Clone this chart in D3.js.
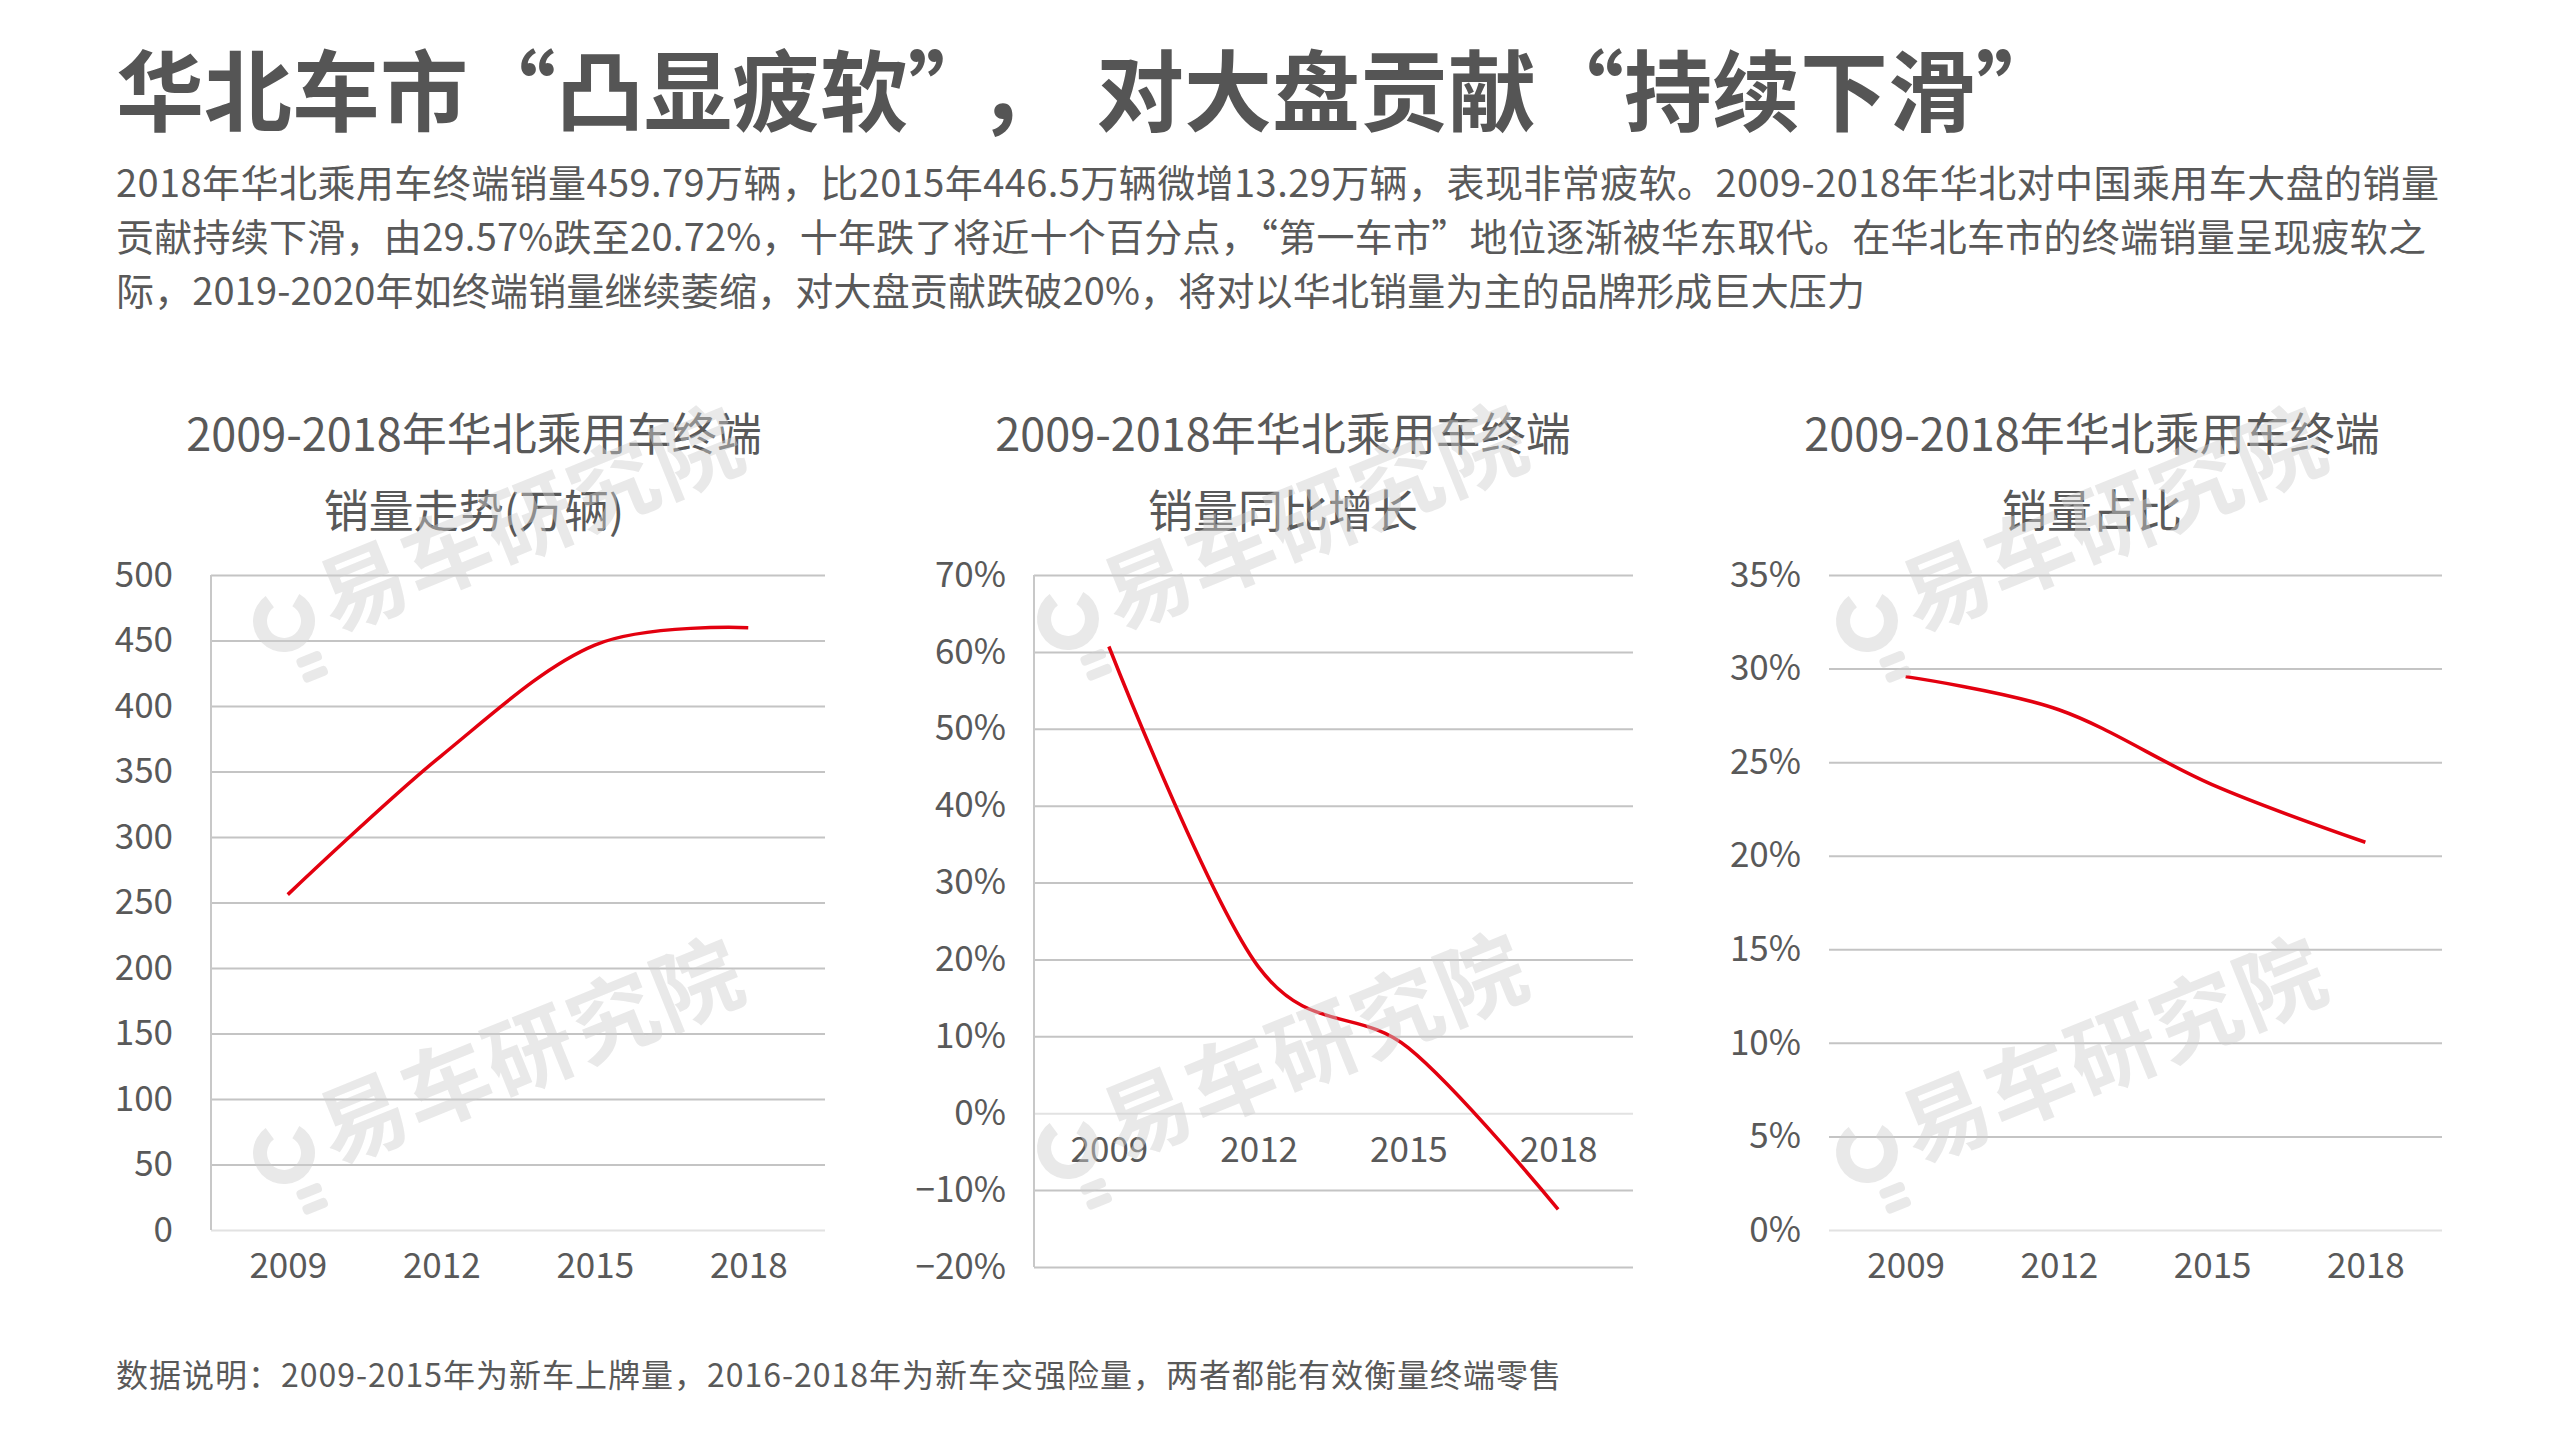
<!DOCTYPE html>
<html>
<head>
<meta charset="utf-8">
<script src="https://cdn.jsdelivr.net/npm/d3@7"></script>
<style>
  body { margin: 0; background: #fff; }
  svg text { font-family: "Noto Sans CJK SC", "Noto Sans", sans-serif; }
</style>
</head>
<body id="MyBody">
<svg id="chart" width="2560" height="1440"></svg>
<script>

// donnees
var years = ["2009", "2012", "2015", "2018"];
var salesValues = [256, 362, 446.5, 459.79];        // 万辆
var yoyValues = [0.607, 0.19, 0.085, -0.125];        // 同比
var shareValues = [0.2957, 0.278, 0.238, 0.2072];   // 占比

var salesTicks = [0, 50, 100, 150, 200, 250, 300, 350, 400, 450, 500];
var yoyTicks = [-0.2, -0.1, 0, 0.1, 0.2, 0.3, 0.4, 0.5, 0.6, 0.7];
var shareTicks = [0, 0.05, 0.1, 0.15, 0.2, 0.25, 0.3, 0.35];

var mainTitle = ["华北车市“凸显疲软”", "，", "对大盘贡献“持续下滑”"];
var introLines = [
  "2018年华北乘用车终端销量459.79万辆，比2015年446.5万辆微增13.29万辆，表现非常疲软。2009-2018年华北对中国乘用车大盘的销量",
  "贡献持续下滑，由29.57%跌至20.72%，十年跌了将近十个百分点，“第一车市”地位逐渐被华东取代。在华北车市的终端销量呈现疲软之",
  "际，2019-2020年如终端销量继续萎缩，对大盘贡献跌破20%，将对以华北销量为主的品牌形成巨大压力"
];
var introWidths = [2323, 2310, 1749];
var footNote = "数据说明：2009-2015年为新车上牌量，2016-2018年为新车交强险量，两者都能有效衡量终端零售";
var watermarkText = "易车研究院";

const txtColor = "#595959";
const gridColor = "#c4c4c4";
const lineColor = "#e3000f";

var svg = d3.select("#chart");

// titre + texte d'intro
var t = svg.append("text")
  .attr("x", 116).attr("y", 124)
  .attr("font-size", 88).attr("font-weight", "bold")
  .attr("fill", "#555555");
t.append("tspan").text(mainTitle[0]);
t.append("tspan").attr("dx", 26).text(mainTitle[1]);
t.append("tspan").attr("dx", 30).text(mainTitle[2]);

svg.selectAll(".intro")
  .data(introLines)
  .enter()
  .append("text")
  .attr("class", "intro")
  .attr("x", 116)
  .attr("y", function(d, i) { return 197 + i * 54; })
  .attr("font-size", 38)
  .attr("fill", txtColor)
  .attr("textLength", function(d, i) { return introWidths[i]; })
  .attr("lengthAdjust", "spacing")
  .text(function(d) { return d; });

svg.append("text")
  .attr("x", 116).attr("y", 1387)
  .attr("font-size", 32)
  .attr("fill", txtColor)
  .attr("textLength", 1445)
  .attr("lengthAdjust", "spacing")
  .text(footNote);

var panels = [
  {
    title: ["2009-2018年华北乘用车终端", "销量走势(万辆)"], titleX: 474,
    values: salesValues, ticks: salesTicks, domain: [0, 500],
    left: 211, right: 825, top: 575, bottom: 1230, labelGap: 38,
    fmt: function(d) { return d; }, vAxis: true, xLabelY: 1290,
    wm: [[284, 621], [284, 1153]]
  },
  {
    title: ["2009-2018年华北乘用车终端", "销量同比增长"], titleX: 1283,
    values: yoyValues, ticks: yoyTicks, domain: [-0.2, 0.7],
    left: 1034, right: 1633, top: 575, bottom: 1267, labelGap: 28,
    fmt: d3.format(".0%"), vAxis: true, xLabelY: null,
    wm: [[1068, 619], [1068, 1148]]
  },
  {
    title: ["2009-2018年华北乘用车终端", "销量占比"], titleX: 2092,
    values: shareValues, ticks: shareTicks, domain: [0, 0.35],
    left: 1829, right: 2442, top: 575, bottom: 1230, labelGap: 28,
    fmt: d3.format(".0%"), vAxis: false, xLabelY: 1290,
    wm: [[1867, 621], [1867, 1152]]
  }
];

function draw_panel(p) {
  var g = svg.append("g");

  g.selectAll(".ptitle")
    .data(p.title)
    .enter()
    .append("text")
    .attr("x", p.titleX)
    .attr("y", function(d, i) { return 451 + i * 77; })
    .attr("text-anchor", "middle")
    .attr("font-size", 45)
    .attr("fill", txtColor)
    .text(function(d) { return d; });

  var x = d3.scalePoint().domain(years).range([p.left, p.right]).padding(0.5);
  var y = d3.scaleLinear().domain(p.domain).range([p.bottom, p.top]);

  // grille horizontale
  var grid = g.append("g")
    .attr("transform", "translate(" + p.left + ",0)")
    .call(d3.axisLeft(y).tickValues(p.ticks).tickSize(-(p.right - p.left)).tickFormat(""));
  grid.select(".domain").remove();
  grid.selectAll(".tick line")
    .attr("stroke", function(d) { return d === 0 ? "#e2e2e2" : gridColor; })
    .attr("stroke-width", 2);

  if (p.vAxis) {
    g.append("line")
      .attr("x1", p.left).attr("x2", p.left)
      .attr("y1", p.top).attr("y2", p.bottom)
      .attr("stroke", "#c8c8c8").attr("stroke-width", 2);
  }

  // labels axe y
  var yAx = g.append("g")
    .attr("transform", "translate(" + (p.left - p.labelGap) + ",0)")
    .call(d3.axisLeft(y).tickValues(p.ticks).tickSize(0).tickPadding(0).tickFormat(p.fmt));
  yAx.select(".domain").remove();
  yAx.selectAll("text")
    .attr("font-size", 35)
    .attr("fill", txtColor)
    .style("font-family", "'Noto Sans CJK SC', sans-serif");

  // labels axe x (au niveau du zero pour le graphe 2)
  var xLabY = p.xLabelY !== null ? p.xLabelY : y(0) + 61;
  var xAx = g.append("g")
    .attr("transform", "translate(0," + (xLabY - 12) + ")")
    .call(d3.axisBottom(x).tickSize(0).tickPadding(0));
  xAx.select(".domain").remove();
  xAx.selectAll("text")
    .attr("dy", "0")
    .attr("font-size", 35)
    .attr("fill", txtColor)
    .style("font-family", "'Noto Sans CJK SC', sans-serif");

  var line = d3.line()
    .x(function(d, i) { return x(years[i]); })
    .y(function(d) { return y(d); })
    .curve(d3.curveCardinal);

  g.append("path")
    .datum(p.values)
    .attr("d", line)
    .attr("fill", "none")
    .attr("stroke", lineColor)
    .attr("stroke-width", 3.5);

  // filigrane
  p.wm.forEach(function(pos) {
    var w = g.append("g")
      .attr("transform", "translate(" + pos[0] + "," + pos[1] + ") rotate(-22)")
      .attr("opacity", 0.45);
    w.append("path")
      .attr("d", d3.arc()({innerRadius: 17, outerRadius: 31, startAngle: 0.9, endAngle: 2 * Math.PI - 0.25}))
      .attr("fill", "#cfcfcf");
    w.append("rect").attr("x", -4).attr("y", 40).attr("width", 26).attr("height", 10).attr("rx", 4).attr("fill", "#cfcfcf");
    w.append("rect").attr("x", -4).attr("y", 56).attr("width", 26).attr("height", 10).attr("rx", 4).attr("fill", "#cfcfcf");
    w.append("text")
      .attr("x", 42).attr("y", 30)
      .attr("font-size", 88)
      .attr("font-weight", "bold")
      .attr("fill", "#cfcfcf")
      .attr("letter-spacing", 2)
      .text(watermarkText);
  });
}

panels.forEach(draw_panel);

</script>
</body>
</html>
